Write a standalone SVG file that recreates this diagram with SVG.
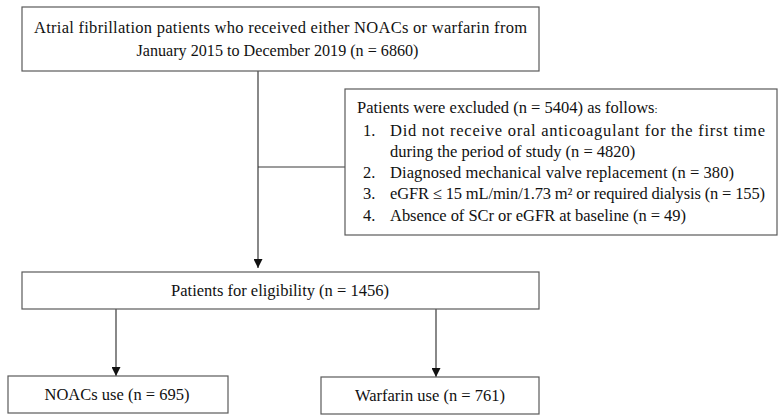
<svg xmlns="http://www.w3.org/2000/svg" width="783" height="420" viewBox="0 0 783 420">
  <style>
    .box { fill: #ffffff; stroke: #5a5a5a; stroke-width: 1.2; }
    .line { fill: none; stroke: #3a3a3a; stroke-width: 1.2; }
    text { font-family: "Liberation Serif", "DejaVu Serif", serif; font-size: 16.5px; fill: #111111; }
    .c { text-anchor: middle; }
  </style>
  <defs>
    <marker id="arrow" viewBox="0 0 10 10" refX="10" refY="5" markerWidth="9" markerHeight="9" markerUnits="userSpaceOnUse" orient="auto">
      <path d="M0,0 L10,5 L0,10 z" fill="#111111"/>
    </marker>
  </defs>
  <rect width="783" height="420" fill="#ffffff"/>

  <g id="connectors">
    <line class="line" x1="258" y1="71" x2="258" y2="268" marker-end="url(#arrow)"/>
    <line class="line" x1="258" y1="167" x2="345" y2="167"/>
    <line class="line" x1="116" y1="309" x2="116" y2="376" marker-end="url(#arrow)"/>
    <line class="line" x1="436" y1="309" x2="436" y2="377" marker-end="url(#arrow)"/>
  </g>

  <g id="source">
    <rect class="box" x="22" y="7" width="517" height="64"/>
    <text class="c" x="280.5" y="33" textLength="493" lengthAdjust="spacing">Atrial fibrillation patients who received either NOACs or warfarin from</text>
    <text class="c" x="277.5" y="56" textLength="282" lengthAdjust="spacingAndGlyphs">January 2015 to December 2019 (n = 6860)</text>
  </g>

  <g id="excluded">
    <rect class="box" x="345" y="89" width="432" height="146"/>
    <text x="357" y="113">Patients were excluded (n = 5404) as follows<tspan font-size="11">:</tspan></text>
    <text x="363" y="136">1.</text>
    <text x="390" y="136" textLength="375" lengthAdjust="spacing">Did not receive oral anticoagulant for the first time</text>
    <text x="390" y="157">during the period of study (n = 4820)</text>
    <text x="363" y="178">2.</text>
    <text x="390" y="178" textLength="344" lengthAdjust="spacing">Diagnosed mechanical valve replacement (n = 380)</text>
    <text x="363" y="199">3.</text>
    <text x="390" y="199" textLength="375" lengthAdjust="spacing">eGFR ≤ 15 mL/min/1.73 m² or required dialysis (n = 155)</text>
    <text x="363" y="221">4.</text>
    <text x="390" y="221" textLength="296" lengthAdjust="spacing">Absence of SCr or eGFR at baseline (n = 49)</text>
  </g>

  <g id="eligible">
    <rect class="box" x="22" y="272" width="517" height="37"/>
    <text class="c" x="280" y="296">Patients for eligibility (n = 1456)</text>
  </g>

  <g id="noacs">
    <rect class="box" x="8" y="376" width="220" height="37"/>
    <text class="c" x="117" y="400">NOACs use (n = 695)</text>
  </g>

  <g id="warfarin">
    <rect class="box" x="321" y="377" width="218" height="37"/>
    <text class="c" x="430" y="401">Warfarin use (n = 761)</text>
  </g>
</svg>
